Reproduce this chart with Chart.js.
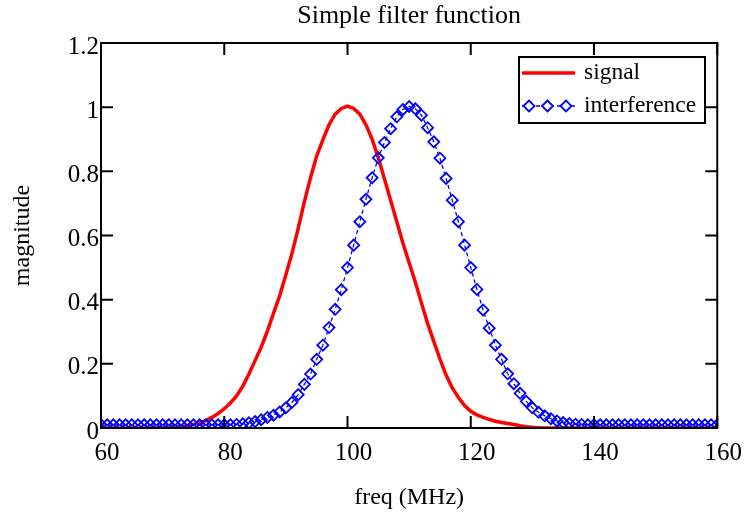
<!DOCTYPE html>
<html>
<head>
<meta charset="utf-8">
<title>Simple filter function</title>
<script src="https://cdn.jsdelivr.net/npm/chart.js@4/dist/chart.umd.min.js"></script>
<style>
  html, body { margin: 0; padding: 0; background: #fff; }
  #chart { display: block; }
</style>
</head>
<body>
<canvas id="chart" width="746" height="521"></canvas>
<script>
// valores (passo de 1 MHz)
const freq = [
  60, 61, 62, 63, 64, 65, 66, 67, 68, 69,
  70, 71, 72, 73, 74, 75, 76, 77, 78, 79,
  80, 81, 82, 83, 84, 85, 86, 87, 88, 89,
  90, 91, 92, 93, 94, 95, 96, 97, 98, 99,
  100, 101, 102, 103, 104, 105, 106, 107, 108, 109,
  110, 111, 112, 113, 114, 115, 116, 117, 118, 119,
  120, 121, 122, 123, 124, 125, 126, 127, 128, 129,
  130, 131, 132, 133, 134, 135, 136, 137, 138, 139,
  140, 141, 142, 143, 144, 145, 146, 147, 148, 149,
  150, 151, 152, 153, 154, 155, 156, 157, 158, 159,
  160,
];

const signal = [
  0, 0, 0, 0, 0, 0, 0, 0, 0, 0,
  0, 0.001, 0.002, 0.004, 0.007, 0.011, 0.016, 0.023, 0.033, 0.045,
  0.06, 0.078, 0.1, 0.13, 0.168, 0.21, 0.252, 0.302, 0.358, 0.412,
  0.478, 0.545, 0.622, 0.705, 0.78, 0.848, 0.898, 0.945, 0.978, 0.996,
  1.003, 0.996, 0.978, 0.945, 0.9, 0.842, 0.776, 0.71, 0.643, 0.576,
  0.515, 0.455, 0.39, 0.326, 0.27, 0.215, 0.165, 0.125, 0.095, 0.07,
  0.052, 0.041, 0.033, 0.027, 0.021, 0.017, 0.014, 0.011, 0.007, 0.004,
  0.002, 0.001, 0, 0, 0, 0, 0, 0, 0, 0,
  0, 0, 0, 0, 0, 0, 0, 0, 0, 0,
  0, 0, 0, 0, 0, 0, 0, 0, 0, 0,
  0,
];

const interference = [
  0.01, 0.01, 0.01, 0.01, 0.01, 0.01, 0.01, 0.01, 0.01, 0.01,
  0.01, 0.01, 0.01, 0.01, 0.01, 0.01, 0.01, 0.01, 0.01, 0.01,
  0.01, 0.01, 0.011, 0.013, 0.016, 0.02, 0.026, 0.033, 0.04, 0.05,
  0.063, 0.08, 0.104, 0.136, 0.168, 0.214, 0.258, 0.313, 0.37, 0.431,
  0.5, 0.57, 0.643, 0.713, 0.78, 0.842, 0.89, 0.933, 0.97, 0.993,
  1.002, 0.995, 0.975, 0.936, 0.892, 0.841, 0.778, 0.71, 0.643, 0.57,
  0.5, 0.432, 0.368, 0.311, 0.258, 0.214, 0.169, 0.138, 0.108, 0.083,
  0.063, 0.049, 0.038, 0.029, 0.022, 0.017, 0.014, 0.012, 0.011, 0.01,
  0.01, 0.01, 0.01, 0.01, 0.01, 0.01, 0.01, 0.01, 0.01, 0.01,
  0.01, 0.01, 0.01, 0.01, 0.01, 0.01, 0.01, 0.01, 0.01, 0.01,
  0.01,
];

const xTicks = [60, 80, 100, 120, 140, 160];
const yTicks = [0, 0.2, 0.4, 0.6, 0.8, 1, 1.2];

const SERIF = "'Liberation Serif', 'Times New Roman', serif";
const toPoints = (ys) => freq.map((x, i) => ({ x, y: ys[i] }));

// moldura, ticks para dentro, título e legenda — estilo Mathcad
const framePlugin = {
  id: 'frame',
  afterDraw(chart) {
    const { ctx, chartArea: a, scales } = chart;
    ctx.save();
    ctx.strokeStyle = '#000';
    ctx.lineWidth = 2;
    ctx.strokeRect(a.left, a.top, a.right - a.left, a.bottom - a.top);

    const len = 12;
    ctx.beginPath();
    xTicks.forEach(v => {
      const px = scales.x.getPixelForValue(v);
      ctx.moveTo(px, a.bottom); ctx.lineTo(px, a.bottom - len);
      ctx.moveTo(px, a.top);    ctx.lineTo(px, a.top + len);
    });
    yTicks.forEach(v => {
      const py = scales.y.getPixelForValue(v);
      ctx.moveTo(a.left, py);  ctx.lineTo(a.left + len, py);
      ctx.moveTo(a.right, py); ctx.lineTo(a.right - len, py);
    });
    ctx.stroke();

    // título
    ctx.fillStyle = '#000';
    ctx.font = '26px ' + SERIF;
    ctx.textAlign = 'center';
    ctx.textBaseline = 'middle';
    ctx.fillText('Simple filter function', (a.left + a.right) / 2, 16);

    // legenda
    const bx = 519, by = 57, bw = 186, bh = 66;
    ctx.fillStyle = '#fff';
    ctx.fillRect(bx, by, bw, bh);
    ctx.strokeStyle = '#000';
    ctx.lineWidth = 2;
    ctx.strokeRect(bx, by, bw, bh);

    const sig = chart.data.datasets.find(d => d.label === 'signal');
    const itf = chart.data.datasets.find(d => d.label === 'interference');
    let y = by + 16;
    ctx.strokeStyle = sig.borderColor;
    ctx.lineWidth = sig.borderWidth;
    ctx.beginPath(); ctx.moveTo(bx + 3, y); ctx.lineTo(bx + 56, y); ctx.stroke();

    y = by + 49;
    ctx.strokeStyle = itf.borderColor;
    ctx.lineWidth = itf.borderWidth;
    ctx.setLineDash(itf.borderDash);
    ctx.beginPath(); ctx.moveTo(bx + 3, y); ctx.lineTo(bx + 56, y); ctx.stroke();
    ctx.setLineDash([]);
    ctx.lineWidth = itf.pointBorderWidth;
    [bx + 10, bx + 28.5, bx + 47].forEach(cx => {
      const r = itf.pointRadius;
      ctx.beginPath();
      ctx.moveTo(cx - r, y); ctx.lineTo(cx, y - r); ctx.lineTo(cx + r, y); ctx.lineTo(cx, y + r);
      ctx.closePath();
      ctx.fillStyle = '#fff';
      ctx.fill();
      ctx.stroke();
    });

    ctx.fillStyle = '#000';
    ctx.font = '23.5px ' + SERIF;
    ctx.textAlign = 'left';
    ctx.fillText(sig.label, bx + 65, by + 16);
    ctx.fillText(itf.label, bx + 65, by + 49);
    ctx.restore();
  },
};

new Chart(document.getElementById('chart'), {
  type: 'line',
  data: {
    datasets: [
      {
        label: 'interference',
        data: toPoints(interference),
        borderColor: '#0000ff',
        borderWidth: 1.3,
        borderDash: [4, 3],
        pointStyle: 'rectRot',
        pointRadius: 5.5,
        pointBorderWidth: 1.8,
        pointBorderColor: '#0000ff',
        pointBackgroundColor: 'rgba(0,0,0,0)',
        tension: 0,
        order: 1,
      },
      {
        label: 'signal',
        data: toPoints(signal),
        borderColor: '#ff0000',
        borderWidth: 3.5,
        pointRadius: 0,
        tension: 0,
        order: 2,
      },
    ],
  },
  options: {
    responsive: false,
    animation: false,
    devicePixelRatio: 1,
    layout: { padding: { left: 0, right: 27, top: 43, bottom: 0 } },
    plugins: {
      legend: { display: false },
      title: { display: false },
      tooltip: { enabled: false },
    },
    scales: {
      x: {
        type: 'linear',
        min: 60, max: 160,
        afterBuildTicks: s => { s.ticks = xTicks.map(value => ({ value })); },
        afterFit: s => { s.height = 93; },
        grid: { display: false, drawTicks: false },
        border: { display: false },
        ticks: { color: '#000', font: { family: SERIF, size: 25 }, padding: 10, labelOffset: 6, maxRotation: 0,
                 callback: v => String(v) },
        title: { display: true, text: 'freq (MHz)', color: '#000', font: { family: SERIF, size: 24 }, padding: { top: 0, bottom: 9 } },
      },
      y: {
        min: 0, max: 1.2,
        afterBuildTicks: s => { s.ticks = yTicks.map(value => ({ value })); },
        afterFit: s => { s.width = 101; },
        grid: { display: false, drawTicks: false },
        border: { display: false },
        ticks: { color: '#000', font: { family: SERIF, size: 25 }, padding: 2, labelOffset: 4,
                 callback: v => String(v) },
        title: { display: true, text: 'magnitude', color: '#000', font: { family: SERIF, size: 24 }, padding: { top: 8, bottom: 0 } },
      },
    },
  },
  plugins: [framePlugin],
});
</script>
</body>
</html>
